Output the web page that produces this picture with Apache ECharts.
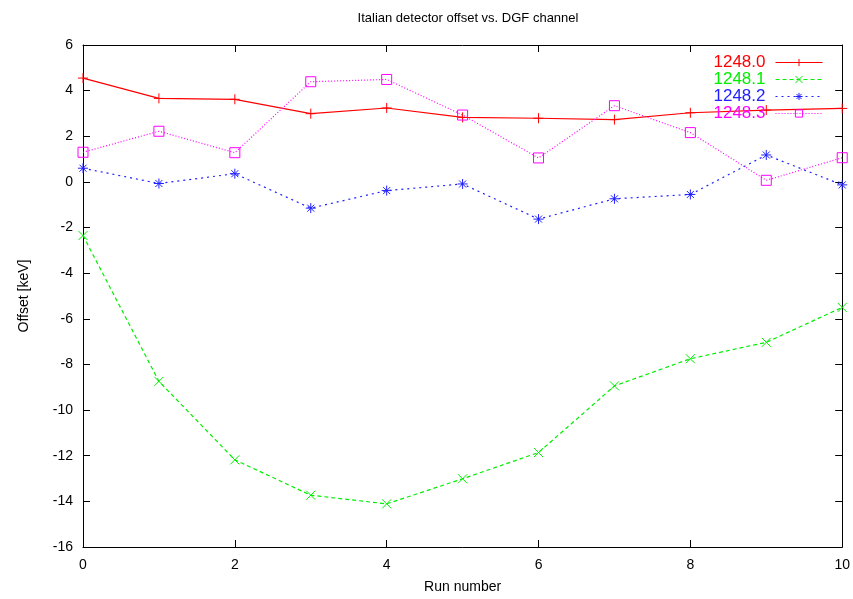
<!DOCTYPE html>
<html>
<head>
<meta charset="utf-8">
<script src="https://cdn.jsdelivr.net/npm/echarts@6/dist/echarts.min.js"></script>
<style>
  html, body { margin: 0; padding: 0; background: #fff; }
  #chart { width: 853px; height: 599px; }
</style>
</head>
<body>
<div id="chart"></div>
<script>
// Run numbers on the x axis
const runs = [0, 1, 2, 3, 4, 5, 6, 7, 8, 9, 10];

// Offset [keV] for each DGF channel
const ch12480 = [4.55, 3.66, 3.62, 2.99, 3.24, 2.83, 2.79, 2.73, 3.03, 3.15, 3.22];
const ch12481 = [-2.35, -8.74, -12.18, -13.73, -14.11, -13.01, -11.86, -8.94, -7.75, -7.03, -5.50];
const ch12482 = [0.60, -0.07, 0.36, -1.15, -0.38, -0.09, -1.63, -0.74, -0.55, 1.18, -0.13];
const ch12483 = [1.30, 2.22, 1.28, 4.39, 4.49, 2.93, 1.05, 3.34, 2.16, 0.07, 1.06];

const seriesNames = ['1248.0', '1248.1', '1248.2', '1248.3'];
const xTicks = { min: 0, max: 10, interval: 2 };
const yTicks = { min: -16, max: 6, interval: 2 };

const FONT = 'Liberation Sans, Arial, sans-serif';
const colors = ['#ff0000', '#00ee00', '#2020ff', '#ff00ff'];

// Point symbols drawn as stroked paths
const SYM_PLUS = 'path://M5,0L5,10M0,5L10,5';
const SYM_CROSS = 'path://M0,0L10,10M10,0L0,10';
const SYM_STAR = 'path://M5,0L5,10M0,5L10,5M1.5,1.5L8.5,8.5M8.5,1.5L1.5,8.5';
const SYM_BOX = 'path://M0,0L10,0L10,10L0,10Z';

function pairs(ys) { return runs.map((x, i) => [x, ys[i]]); }

function makeSeries(name, ys, color, symbol, size, dash, width) {
  return {
    name: name,
    type: 'line',
    data: pairs(ys),
    symbol: symbol,
    symbolSize: size,
    symbolKeepAspect: true,
    showAllSymbol: true,
    lineStyle: { color: color, width: width, type: dash },
    itemStyle: { color: 'rgba(0,0,0,0)', borderColor: color, borderWidth: 1 },
    emphasis: { disabled: true },
    animation: false,
    z: 3
  };
}

const chart = echarts.init(document.getElementById('chart'), null, { renderer: 'canvas' });

const axisCommon = {
  type: 'value',
  axisLine: { show: true, onZero: false, lineStyle: { color: '#000', width: 1 } },
  axisTick: { show: true, inside: true, length: 7, lineStyle: { color: '#000' } },
  splitLine: { show: false },
  axisLabel: { color: '#000', fontFamily: FONT, fontSize: 14 }
};

chart.setOption({
  backgroundColor: '#fff',
  animation: false,
  title: {
    text: 'Italian detector offset vs. DGF channel',
    left: 463,
    top: 7,
    textAlign: 'center',
    textStyle: { fontFamily: FONT, fontSize: 13, fontWeight: 'normal', color: '#000' }
  },
  grid: { left: 83, right: 10, top: 45, bottom: 50 },
  legend: {
    orient: 'vertical',
    right: 25,
    top: 49,
    align: 'right',
    itemWidth: 47,
    itemHeight: 9,
    itemGap: 0,
    selectedMode: false,
    lineStyle: { width: 1 },
    itemStyle: { borderWidth: 1 },
    data: seriesNames.map((n, i) => ({ name: n, textStyle: { color: colors[i] } })),
    textStyle: { fontFamily: FONT, fontSize: 17, lineHeight: 17, padding: [0, 5, 0, 0] }
  },
  xAxis: [
    Object.assign({}, axisCommon, {
      position: 'bottom',
      min: xTicks.min, max: xTicks.max, interval: xTicks.interval,
      name: 'Run number',
      nameLocation: 'middle',
      nameGap: 33,
      nameTextStyle: { fontFamily: FONT, fontSize: 14, color: '#000' },
      axisLabel: { color: '#000', fontFamily: FONT, fontSize: 14, margin: 11 }
    }),
    Object.assign({}, axisCommon, {
      position: 'top',
      min: xTicks.min, max: xTicks.max, interval: xTicks.interval,
      axisLabel: { show: false }
    })
  ],
  yAxis: [
    Object.assign({}, axisCommon, {
      position: 'left',
      min: yTicks.min, max: yTicks.max, interval: yTicks.interval,
      name: 'Offset [keV]',
      nameLocation: 'middle',
      nameGap: 52,
      nameRotate: 90,
      nameTextStyle: { fontFamily: FONT, fontSize: 14, color: '#000' },
      axisLabel: { color: '#000', fontFamily: FONT, fontSize: 14, margin: 10 }
    }),
    Object.assign({}, axisCommon, {
      position: 'right',
      min: yTicks.min, max: yTicks.max, interval: yTicks.interval,
      axisLabel: { show: false }
    })
  ],
  series: [
    makeSeries(seriesNames[0], ch12480, colors[0], SYM_PLUS, 10, 'solid', 1.2),
    makeSeries(seriesNames[1], ch12481, colors[1], SYM_CROSS, 9, [4, 3], 1.2),
    makeSeries(seriesNames[2], ch12482, colors[2], SYM_STAR, 10, [2, 4], 1.2),
    makeSeries(seriesNames[3], ch12483, colors[3], SYM_BOX, 10, [1, 2], 1.2)
  ]
});
</script>
</body>
</html>
